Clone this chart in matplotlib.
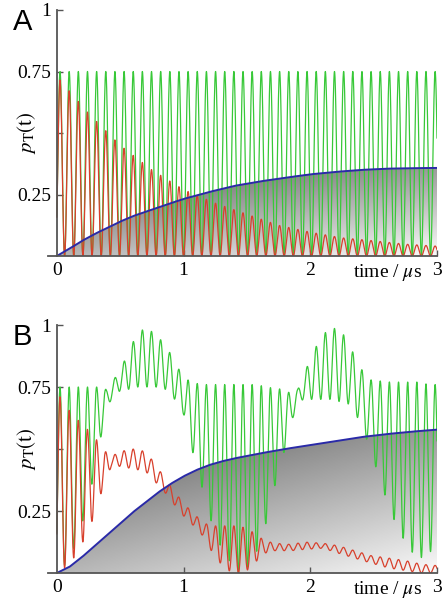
import numpy as np
import matplotlib
matplotlib.use("Agg")
import matplotlib.pyplot as plt
from matplotlib.patches import Polygon

plt.rcParams['font.family'] = ['Liberation Serif', 'DejaVu Serif']
plt.rcParams['mathtext.fontset'] = 'stix'

# oscillation (period and first peak, in µs)
T_PERIOD = 0.0722
T_FIRST_PEAK = 0.025

# ---- panel A ----
a_green_lo, a_green_hi = 0.0, 0.75
a_red_t = [0, 0.25, 0.5, 0.75, 1.0, 1.25, 1.5, 1.75, 2.0, 2.25, 2.5, 2.75, 3.0]
a_red_hi = [0.73, 0.58, 0.45, 0.35, 0.27, 0.215, 0.17, 0.125, 0.097, 0.074, 0.062, 0.048, 0.04]
a_blue_t = [0, 0.1, 0.2, 0.3, 0.4, 0.5, 0.6, 0.7, 0.8, 0.9, 1.0, 1.2, 1.4, 1.6, 1.8,
            2.0, 2.2, 2.4, 2.6, 2.8, 3.0]
a_blue = [0, 0.03, 0.062, 0.09, 0.115, 0.14, 0.162, 0.18, 0.197, 0.215, 0.232, 0.26, 0.285,
          0.303, 0.318, 0.332, 0.342, 0.35, 0.355, 0.357, 0.358]

# ---- panel B ----
b_green_t = [0, 0.1, 0.2, 0.27, 0.33, 0.39, 0.45, 0.52, 0.56, 0.64, 0.71, 0.78, 0.86, 0.93,
             1.0, 1.06, 1.14, 1.21, 1.28, 1.36, 1.43, 1.5, 1.58, 1.65, 1.72, 1.79, 1.86,
             1.9, 1.95, 2.02, 2.1, 2.16, 2.24, 2.31, 2.38, 2.46, 2.54, 2.63, 2.71, 2.79,
             2.86, 2.93, 3.0]
b_green_hi = [0.75, 0.75, 0.75, 0.75, 0.75, 0.74, 0.78, 0.84, 0.89, 0.97, 0.99, 0.96, 0.92, 0.85,
              0.79, 0.77, 0.76, 0.76, 0.76, 0.76, 0.76, 0.76, 0.76, 0.75, 0.745, 0.74, 0.72,
              0.74, 0.80, 0.89, 0.96, 0.99, 0.98, 0.92, 0.84, 0.78, 0.775, 0.77, 0.77, 0.77,
              0.77, 0.76, 0.76]
b_green_lo = [0.0, 0.05, 0.2, 0.34, 0.5, 0.66, 0.72, 0.74, 0.74, 0.75, 0.75, 0.75, 0.74, 0.70,
              0.64, 0.51, 0.355, 0.22, 0.12, 0.05, 0.0, 0.02, 0.09, 0.2, 0.35, 0.48, 0.62,
              0.69, 0.70, 0.70, 0.70, 0.70, 0.69, 0.68, 0.62, 0.52, 0.39, 0.25, 0.16, 0.09,
              0.06, 0.07, 0.13]
b_red_t = [0, 0.09, 0.16, 0.24, 0.31, 0.36, 0.43, 0.5, 0.6, 0.7, 0.79, 0.86, 0.92, 1.0, 1.08,
           1.16, 1.25, 1.35, 1.43, 1.5, 1.56, 1.64, 1.72, 1.85, 1.95, 2.1, 2.22, 2.35, 2.48,
           2.62, 2.75, 2.88, 3.0]
b_red_hi = [0.73, 0.66, 0.62, 0.58, 0.54, 0.50, 0.47, 0.49, 0.50, 0.49, 0.43, 0.375, 0.335, 0.28,
            0.24, 0.20, 0.19, 0.19, 0.19, 0.18, 0.16, 0.13, 0.12, 0.115, 0.125, 0.12, 0.11, 0.09,
            0.07, 0.06, 0.05, 0.035, 0.03]
b_red_lo = [0.0, 0.03, 0.08, 0.16, 0.25, 0.34, 0.43, 0.43, 0.42, 0.41, 0.36, 0.32, 0.28, 0.23,
            0.19, 0.145, 0.06, 0.01, 0.0, 0.01, 0.04, 0.08, 0.09, 0.09, 0.095, 0.10, 0.08, 0.06,
            0.04, 0.02, 0.01, 0.0, 0.0]
b_blue_t = [0, 0.1, 0.2, 0.3, 0.4, 0.5, 0.6, 0.7, 0.8, 0.9, 1.0, 1.1, 1.2, 1.3, 1.4, 1.6,
            1.8, 2.0, 2.2, 2.4, 2.6, 2.8, 3.0]
b_blue = [0, 0.025, 0.065, 0.11, 0.155, 0.2, 0.245, 0.285, 0.325, 0.36, 0.39, 0.415, 0.435,
          0.45, 0.462, 0.482, 0.5, 0.516, 0.532, 0.548, 0.56, 0.57, 0.578]

GREEN = '#38c838'
RED = '#d8402c'
BLUE = '#2a2aa8'
AXC = '#555555'

t = np.linspace(0, 3, 4000)


def wave(lo, hi):
    return lo + (hi - lo) * 0.5 * (1 + np.cos(2 * np.pi * (t - T_FIRST_PEAK) / T_PERIOD))


def shaded(ax, curve, pmax):
    # grey gradient under the blue curve: dark near the top-left, light at bottom-right
    verts = np.column_stack([np.r_[t, t[::-1]], np.r_[curve, np.zeros_like(curve)]])
    patch = Polygon(verts, closed=True, facecolor='none', edgecolor='none')
    ax.add_patch(patch)
    tt, pp = np.meshgrid(np.linspace(0, 3, 300), np.linspace(0, pmax, 200))
    shade = 0.33 + 0.09 * tt + 0.38 * (1 - pp / pmax)
    im = ax.imshow(shade, extent=[0, 3, 0, pmax], origin='lower', cmap='gray',
                   vmin=0, vmax=1, aspect='auto', zorder=1, interpolation='bilinear')
    im.set_clip_path(patch)


def style(ax, letter):
    ax.set_xlim(-0.07, 3.0)
    ax.set_ylim(0, 1.0)
    for s in ['top', 'right']:
        ax.spines[s].set_visible(False)
    ax.spines['left'].set_position(('data', 0))
    ax.spines['left'].set_bounds(0, 1)
    for s in ['left', 'bottom']:
        ax.spines[s].set_color(AXC)
        ax.spines[s].set_linewidth(1.3)
        ax.spines[s].set_zorder(6)
    ax.set_yticks([0.25, 0.5, 0.75, 1.0])
    ax.set_yticklabels(['0.25', '', '0.75', '1'])
    ax.set_xticks([0, 1, 2, 3])
    ax.set_xticklabels(['0', '1', '2', '3'])
    ax.tick_params(direction='in', length=4, width=1, color=AXC, labelsize=14, pad=4)
    ax.xaxis.get_major_ticks()[0].tick1line.set_visible(False)
    ax.annotate(r'time / $\mu$s', xy=(2.88, 0), xycoords='data', xytext=(0, -4),
                textcoords='offset points', ha='right', va='top', fontsize=14)
    ax.text(-0.055, 0.5, r'$p_\mathrm{T}(\mathrm{t})$', transform=ax.transAxes,
            rotation=90, ha='center', va='center', fontsize=15)
    ax.text(-0.09, 1.01, letter, transform=ax.transAxes, ha='left', va='top',
            fontsize=21, family='Liberation Sans')


fig = plt.figure(figsize=(4.43, 6.05), dpi=100)
axA = fig.add_axes([48 / 443, 1 - 256 / 605, 389 / 443, 246 / 605])
axB = fig.add_axes([48 / 443, 1 - 573 / 605, 389 / 443, 248 / 605])

# panel A
blueA = np.interp(t, a_blue_t, a_blue)
shaded(axA, blueA, max(a_blue))
axA.plot(t, wave(a_green_lo, a_green_hi), color=GREEN, lw=0.9, zorder=2)
axA.plot(t, wave(0.0, np.interp(t, a_red_t, a_red_hi)), color=RED, lw=0.9, zorder=3)
axA.plot(t, blueA, color=BLUE, lw=1.4, zorder=4)
style(axA, 'A')

# panel B
blueB = np.interp(t, b_blue_t, b_blue)
shaded(axB, blueB, max(b_blue))
axB.plot(t, wave(np.interp(t, b_green_t, b_green_lo), np.interp(t, b_green_t, b_green_hi)),
         color=GREEN, lw=0.9, zorder=2)
axB.plot(t, wave(np.interp(t, b_red_t, b_red_lo), np.interp(t, b_red_t, b_red_hi)),
         color=RED, lw=0.9, zorder=3)
axB.plot(t, blueB, color=BLUE, lw=1.4, zorder=4)
style(axB, 'B')

fig.savefig('out.png', dpi=100)
